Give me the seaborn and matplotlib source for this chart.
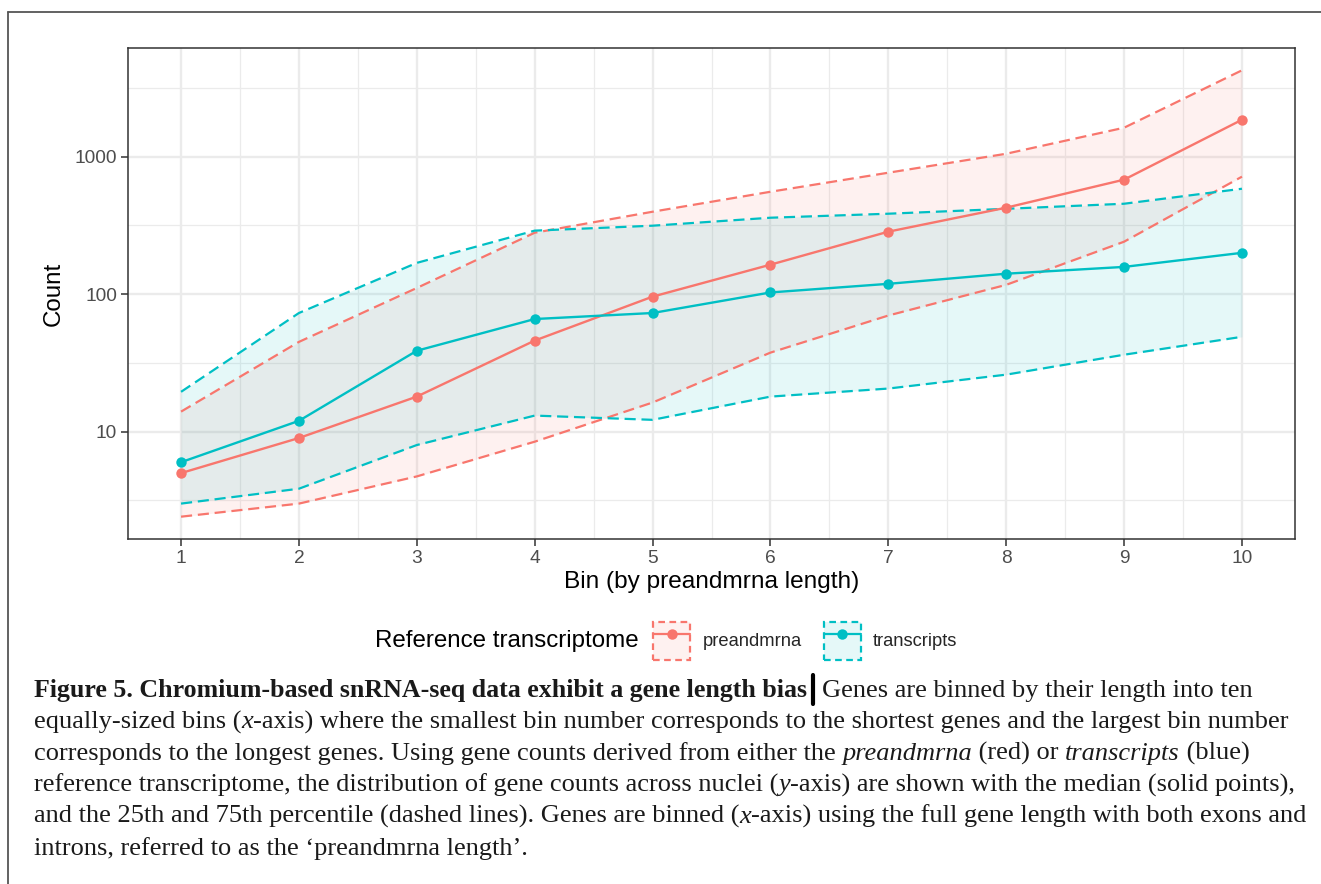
import numpy as np
import pandas as pd
import matplotlib
matplotlib.use("Agg")
import matplotlib.pyplot as plt
import seaborn as sns
from matplotlib.patches import Rectangle
from matplotlib.lines import Line2D
from matplotlib.ticker import FixedLocator, NullFormatter

# ---------------- data ----------------
bins = [1, 2, 3, 4, 5, 6, 7, 8, 9, 10]
references = ["preandmrna", "transcripts"]

pre_median = [5.0, 9.0, 18.0, 46.0, 96.0, 164.0, 285.0, 426.0, 681.0, 1857.0]
pre_q25 = [2.41, 3.0, 4.73, 8.46, 16.3, 37.6, 70.0, 117.0, 241.0, 716.0]
pre_q75 = [14.0, 45.0, 111.0, 280.0, 398.0, 556.0, 765.0, 1051.0, 1625.0, 4250.0]

tx_median = [6.0, 12.0, 38.8, 66.0, 73.0, 103.0, 119.0, 141.0, 158.0, 200.0]
tx_q25 = [3.0, 3.85, 8.0, 13.1, 12.2, 18.0, 20.6, 26.0, 36.3, 49.0]
tx_q75 = [19.5, 73.0, 169.0, 290.0, 315.0, 360.0, 385.0, 418.0, 455.0, 585.0]

y_ticks = [10, 100, 1000]
y_tick_labels = ["10", "100", "1000"]

colors = {"preandmrna": "#F8766D", "transcripts": "#00BFC4"}

df = pd.DataFrame({
    "bin": bins * 2,
    "ref": ["preandmrna"] * 10 + ["transcripts"] * 10,
    "median": pre_median + tx_median,
    "q25": pre_q25 + tx_q25,
    "q75": pre_q75 + tx_q75,
})

# ---------------- figure ----------------
sns.set_style("white")
plt.rcParams["font.family"] = ["Liberation Sans", "DejaVu Sans"]

W, H = 1321, 884
fig = plt.figure(figsize=(W / 100, H / 100), dpi=100)

def fx(px):
    return px / W

def fy(py):
    return 1 - py / H

ax = fig.add_axes([fx(128), fy(539), fx(1295) - fx(128), fy(48) - fy(539)])
ax.set_yscale("log")

# ribbons + dashed quartile lines, per group
for ref in references:
    sub = df[df["ref"] == ref]
    c = colors[ref]
    ax.fill_between(sub["bin"], sub["q25"], sub["q75"], color=c, alpha=0.1,
                    linewidth=0, zorder=2)
    for q in ["q25", "q75"]:
        sns.lineplot(data=sub, x="bin", y=q, ax=ax, color=c, linewidth=1.6,
                     linestyle=(0, (5.0, 2.6)), zorder=3, legend=False)

sns.lineplot(data=df, x="bin", y="median", hue="ref", hue_order=references,
             palette=colors, ax=ax, linewidth=1.7, marker="o", markersize=7.5,
             markeredgewidth=0, zorder=4, legend=False)

# limits (ggplot-style 5% expansion)
xlo, xhi = min(bins), max(bins)
xpad = 0.05 * (xhi - xlo)
ax.set_xlim(xlo - xpad, xhi + xpad)
allv = np.log10(np.array(pre_q25 + pre_q75 + tx_q25 + tx_q75))
lo, hi = allv.min(), allv.max()
ypad = 0.05 * (hi - lo)
ax.set_ylim(10 ** (lo - ypad), 10 ** (hi + ypad))

# ticks and grid
ax.xaxis.set_major_locator(FixedLocator(bins))
ax.xaxis.set_minor_locator(FixedLocator([b + 0.5 for b in bins[:-1]]))
ax.set_xticklabels([str(b) for b in bins])
ax.yaxis.set_major_locator(FixedLocator(y_ticks))
ax.yaxis.set_minor_locator(FixedLocator([10 ** 0.5, 10 ** 1.5, 10 ** 2.5, 10 ** 3.5]))
ax.set_yticklabels(y_tick_labels)
ax.yaxis.set_minor_formatter(NullFormatter())
ax.xaxis.set_minor_formatter(NullFormatter())

ax.tick_params(which="major", length=5, width=1.1, color="#333333",
               labelsize=13.8, labelcolor="#4D4D4D", pad=3, direction="out",
               bottom=True, left=True)
ax.tick_params(which="minor", length=0)
ax.grid(which="major", color="#EBEBEB", linewidth=1.7, zorder=0)
ax.grid(which="minor", color="#EBEBEB", linewidth=0.9, zorder=0)
ax.set_axisbelow(True)
for s in ax.spines.values():
    s.set_color("#333333")
    s.set_linewidth(1.1)
    s.set_visible(True)

ax.set_xlabel("Bin (by preandmrna length)", fontsize=17.6, color="black", labelpad=3)
ax.set_ylabel("Count", fontsize=17.4, color="black", labelpad=7)

# ---------------- legend ----------------
handles = []
for ref in references:
    c = colors[ref]
    patch = Rectangle((0, 0), 1, 1, facecolor=matplotlib.colors.to_rgba(c, 0.1),
                      edgecolor=c, linestyle=(0, (3.0, 2.0)), linewidth=1.6)
    line = Line2D([], [], color=c, linewidth=1.6, marker="o", markersize=7.5,
                  markeredgewidth=0)
    handles.append((patch, line))

leg = fig.legend(handles, references, loc="center left",
                 bbox_to_anchor=(fx(653), fy(641)), ncol=2, frameon=False,
                 fontsize=13.2, handlelength=2.02, handleheight=2.75,
                 handletextpad=0.68, columnspacing=1.2, borderpad=0,
                 borderaxespad=0)
fig.text(fx(375), fy(641), "Reference transcriptome", fontsize=17.4,
         ha="left", va="center", color="black")

# ---------------- page frame ----------------
fig.add_artist(Line2D([fx(8), 1], [fy(12), fy(12)], color="#555555", linewidth=1.3))
fig.add_artist(Line2D([fx(8), fx(8)], [fy(12), 0], color="#555555", linewidth=1.3))

# ---------------- caption ----------------
serif = ["Liberation Serif", "DejaVu Serif"]
cap_lines = [
    [("Figure 5. Chromium-based snRNA-seq data exhibit a gene length bias", "bold"),
     ("|BAR|", "bar"), ("Genes are binned by their length into ten", "normal")],
    [("equally-sized bins (", "normal"), ("x", "italic"),
     ("-axis) where the smallest bin number corresponds to the shortest genes and the largest bin number", "normal")],
    [("corresponds to the longest genes. Using gene counts derived from either the ", "normal"),
     ("preandmrna", "italic"), (" (red) or ", "normal"), ("transcripts", "italic"),
     (" (blue)", "normal")],
    [("reference transcriptome, the distribution of gene counts across nuclei (", "normal"),
     ("y", "italic"), ("-axis) are shown with the median (solid points),", "normal")],
    [("and the 25th and 75th percentile (dashed lines). Genes are binned (", "normal"),
     ("x", "italic"), ("-axis) using the full gene length with both exons and", "normal")],
    [("introns, referred to as the \u2018preandmrna length\u2019.", "normal")],
]
baselines = [697, 728.5, 760, 791.5, 823, 854.5]
x0 = 34

fig.canvas.draw()
renderer = fig.canvas.get_renderer()

def make_text(x, y, s, style, size):
    kw = dict(fontsize=size, family=serif, color="#1a1a1a", va="baseline", ha="left")
    if style == "bold":
        kw["fontweight"] = "bold"
    elif style == "italic":
        kw["fontstyle"] = "italic"
    return fig.text(fx(x), fy(y), s, **kw)

def seg_width(s, st, size):
    t = make_text(0, 0, s, st, size)
    w = t.get_window_extent(renderer).width
    t.remove()
    return w

def line_width(segs, size):
    return sum(16 if st == "bar" else seg_width(s, st, size) for s, st in segs)

trial = 16
target = (1290 - 34) + (1288 - 34) + (1303 - 34)
meas = sum(line_width(cap_lines[i], trial) for i in (1, 3, 4))
cap_size = trial * target / meas
bold_text = cap_lines[0][0][0]
bold_size = cap_size * (808 - 34) / seg_width(bold_text, "bold", cap_size)

for segs, yb in zip(cap_lines, baselines):
    x = x0
    for s, st in segs:
        if st == "bar":
            x += 6
            fig.add_artist(Line2D([fx(x), fx(x)], [fy(yb + 7), fy(yb - 22)],
                                  color="black", linewidth=3.0))
            x += 9
            continue
        size = bold_size if st == "bold" else cap_size
        t = make_text(x, yb, s, st, size)
        x += t.get_window_extent(renderer).width

fig.savefig("out.png", dpi=100)
